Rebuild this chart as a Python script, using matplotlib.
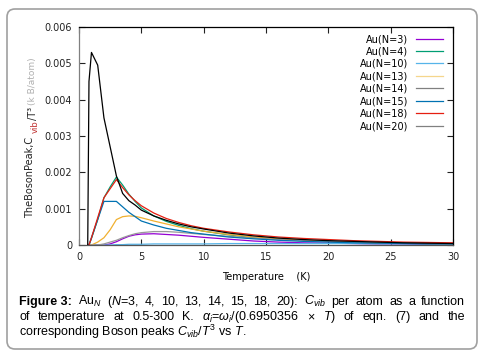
import matplotlib
matplotlib.use("Agg")
import matplotlib.pyplot as plt
from matplotlib.lines import Line2D
from matplotlib.patches import FancyBboxPatch

plt.rcParams['mathtext.fontset'] = 'custom'
plt.rcParams['mathtext.rm'] = 'Liberation Sans'
plt.rcParams['mathtext.it'] = 'Liberation Sans:italic'
plt.rcParams['mathtext.bf'] = 'Liberation Sans:bold'

# data (temperature in K, Cvib/T^3)
temps = [0.7, 0.8, 1.0, 1.5, 2.0, 2.5, 3.0, 3.5, 4.0, 4.5, 5, 6, 7, 8, 9, 10,
         12, 14, 16, 18, 20, 22, 24, 26, 28, 30]

au3 = [0, 0, 0, 0, 0, 0.00003, 0.00009, 0.00017, 0.00024, 0.00028, 0.0003, 0.00031,
       0.00029, 0.00027, 0.00024, 0.00021, 0.00016, 0.00011, 0.00008, 0.00006,
       0.00005, 0.00004, 0.00003, 0.00003, 0.00002, 0.00002]
au4 = [0, 0, 0.00018, 0.0007, 0.0013, 0.0016, 0.00187, 0.00165, 0.0014, 0.0012,
       0.00102, 0.0008, 0.00065, 0.00054, 0.00045, 0.00038, 0.00028, 0.0002,
       0.00015, 0.00012, 0.0001, 0.00008, 0.00006, 0.00005, 0.00004, 0.00003]
au10 = [0, 0, 0, 0, 0, 0, 0.00001, 0.00001, 0.00002, 0.00002, 0.00002, 0.00003,
        0.00003, 0.00003, 0.00003, 0.00003, 0.00004, 0.00004, 0.00004, 0.00004,
        0.00004, 0.00004, 0.00003, 0.00003, 0.00003, 0.00003]
au13 = [0, 0, 0, 0.00008, 0.0002, 0.00042, 0.0007, 0.00078, 0.0008, 0.00079,
        0.00075, 0.00066, 0.00058, 0.0005, 0.00044, 0.00038, 0.00029, 0.00022,
        0.00017, 0.00013, 0.0001, 0.00008, 0.00006, 0.00005, 0.00004, 0.00004]
au14 = [0, 0, 0, 0, 0.00003, 0.00008, 0.00013, 0.0002, 0.00026, 0.00031, 0.00034,
        0.00037, 0.00037, 0.00035, 0.00032, 0.00029, 0.00024, 0.00019, 0.00015,
        0.00012, 0.0001, 0.00008, 0.00006, 0.00005, 0.00004, 0.00003]
au15 = [0, 0, 0.0002, 0.0007, 0.0012, 0.0012, 0.0012, 0.00105, 0.0009, 0.00078,
        0.00066, 0.00055, 0.00046, 0.0004, 0.00034, 0.0003, 0.00022, 0.00017,
        0.00013, 0.0001, 0.00008, 0.00006, 0.00005, 0.00004, 0.00003, 0.00003]
au18 = [0, 0, 0.0002, 0.00075, 0.0013, 0.00155, 0.0018, 0.00158, 0.00138, 0.00122,
        0.00108, 0.00088, 0.00073, 0.00062, 0.00053, 0.00046, 0.00036, 0.00028,
        0.00022, 0.00018, 0.00015, 0.00012, 0.0001, 0.00008, 0.00007, 0.00006]
au20 = [0, 0.0045, 0.0053, 0.00495, 0.0035, 0.0027, 0.0019, 0.00142, 0.00122,
        0.0011, 0.00096, 0.0008, 0.00068, 0.00058, 0.0005, 0.00044, 0.00033,
        0.00025, 0.00019, 0.00015, 0.00012, 0.0001, 0.00008, 0.00006, 0.00005,
        0.00004]

series = [au3, au4, au10, au13, au14, au15, au18, au20]
labels = ['Au(N=3)', 'Au(N=4)', 'Au(N=10)', 'Au(N=13)', 'Au(N=14)',
          'Au(N=15)', 'Au(N=18)', 'Au(N=20)']
line_colors = ['#9400d3', '#009e73', '#56b4e9', '#f0b030', '#999999',
               '#0072b2', '#e51e10', '#000000']
legend_colors = ['#9400d3', '#009e73', '#56b4e9', '#f5d68c', '#808080',
                 '#0072b2', '#e51e10', '#808080']
xticks = [0, 5, 10, 15, 20, 25, 30]
yticks = [0, 0.001, 0.002, 0.003, 0.004, 0.005, 0.006]

W, H = 486, 357
fig = plt.figure(figsize=(W / 100, H / 100), dpi=100)

# rounded frame around the whole figure
frame = FancyBboxPatch((0.07, 0.08), 4.70, 3.40,
                       boxstyle="round,pad=0,rounding_size=0.08",
                       transform=fig.dpi_scale_trans, fill=False,
                       edgecolor='#a0a0a0', linewidth=1.2)
fig.patches.append(frame)

ax = fig.add_axes([79 / W, 1 - 245 / H, (453 - 79) / W, (245 - 27) / H])
for ys, c in zip(series, line_colors):
    ax.plot(temps, ys, color=c, lw=0.9)

ax.set_xlim(0, 30)
ax.set_ylim(0, 0.006)
ax.set_xticks(xticks)
ax.set_yticks(yticks)
ax.set_yticklabels(['0' if v == 0 else '%.3f' % v for v in yticks])
ax.tick_params(direction='in', length=4, width=0.8, top=True, right=True,
               labelsize=7, colors='#222222', pad=5)
ax.spines['left'].set_color('#808080')
ax.spines['bottom'].set_color('#555555')
for s in ax.spines.values():
    s.set_linewidth(0.9)
ax.set_xlabel('Temperature    (K)', fontsize=7, labelpad=7)

handles = [Line2D([], [], color=c, lw=0.9) for c in legend_colors]
ax.legend(handles, labels, loc='upper right', bbox_to_anchor=(443 / W, 1 - 34 / H),
          bbox_transform=fig.transFigure, frameon=False, markerfirst=False,
          fontsize=7, handlelength=2.8, handletextpad=0.8, labelspacing=0.25,
          borderpad=0, borderaxespad=0)

# y label in pieces (different colours)
fig.text(30 / W, 1 - 177 / H, 'TheBosonPeak,C', rotation=90, fontsize=7,
         ha='center', va='center', color='#222222')
fig.text(35 / W, 1 - 127 / H, 'vib', rotation=90, fontsize=6,
         ha='center', va='center', color='#c03030')
fig.text(33 / W, 1 - 113 / H, '/T\u00b3', rotation=90, fontsize=7,
         ha='center', va='center', color='#222222')
fig.text(33 / W, 1 - 81 / H, '(k B/atom)', rotation=90, fontsize=6.5,
         ha='center', va='center', color='#b0b0b0')

# caption, first two lines justified
cap_size = 9
line1 = [('Figure 3:', 'bold'), ('Au$_N$', 'normal'), ('($N$=3,', 'normal'),
         ('4,', 'normal'), ('10,', 'normal'), ('13,', 'normal'), ('14,', 'normal'),
         ('15,', 'normal'), ('18,', 'normal'), ('20):', 'normal'),
         ('$C_{vib}$', 'normal'), ('per', 'normal'), ('atom', 'normal'),
         ('as', 'normal'), ('a', 'normal'), ('function', 'normal')]
line2 = [('of', 'normal'), ('temperature', 'normal'), ('at', 'normal'),
         ('0.5-300', 'normal'), ('K.', 'normal'),
         (r'$\alpha_i$=$\omega_i$/(0.6950356', 'normal'), ('\u00d7', 'normal'),
         ('$T$)', 'normal'), ('of', 'normal'), ('eqn.', 'normal'), ('(7)', 'normal'),
         ('and', 'normal'), ('the', 'normal')]
line3 = 'corresponding Boson peaks $C_{vib}$/$T^3$ vs $T$.'

x0, x1 = 19, 465


def justify(words, y_px):
    texts = [fig.text(0, 1 - y_px / H, w, fontsize=cap_size, weight=wt,
                      family='Liberation Sans', va='baseline', ha='left')
             for w, wt in words]
    fig.canvas.draw()
    r = fig.canvas.get_renderer()
    widths = [t.get_window_extent(r).width for t in texts]
    gap = ((x1 - x0) - sum(widths)) / (len(texts) - 1)
    x = x0
    for t, w in zip(texts, widths):
        t.set_x(x / W)
        x += w + gap


justify(line1, 305)
justify(line2, 320)
fig.text(x0 / W, 1 - 336 / H, line3, fontsize=cap_size, family='Liberation Sans',
         va='baseline', ha='left')

fig.savefig('out.png', dpi=100)
